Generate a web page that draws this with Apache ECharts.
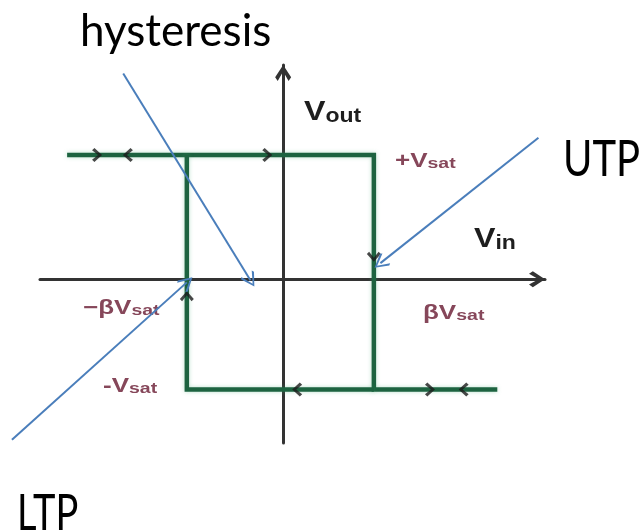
<!DOCTYPE html>
<html><head><meta charset="utf-8">
<script src="https://cdn.jsdelivr.net/npm/echarts@6/dist/echarts.min.js"></script>
<style>html,body{margin:0;padding:0;background:#fff}#c{width:639px;height:531px}</style>
</head><body><div id="c"></div>
<script>
// ---- data (arbitrary units) ----
const xLimits = [-2.6, 2.8];
const yLimits = [-1.53, 2.0];
// hysteresis loop: upper branch path and lower/left branch path
const loopOuter = [[-2.31, 1.16], [0.97, 1.16], [0.97, -1.03], [2.29, -1.03]];
const loopInner = [[-1.03, 1.16], [-1.03, -1.03], [0.97, -1.03]];
// direction chevrons on the loop
const chevronsRight = [[-1.99, 1.16], [-0.17, 1.16], [1.57, -1.03]];
const chevronsLeft = [[-1.66, 1.16], [0.15, -1.03], [1.93, -1.03]];
const chevronsDown = [[0.97, 0.21]];
const chevronsUp = [[-1.03, -0.16]];
// blue annotation pointers [from, to]
const pointerHysteresis = [[-1.71, 1.92], [-0.35, -0.01]];
const pointerUTP = [[2.73, 1.32], [1.04, 0.15]];
const pointerLTP = [[-2.90, -1.50], [-1.03, -0.03]];
// texts
const annotationTexts = ['hysteresis', 'UTP', 'LTP'];
const axisNames = ['V', 'out', 'in'];
const levelLabels = ['+V', '-V', '\u2212\u03b2V', '\u03b2V', 'sat'];

// ---- styling ----
const chevThick = 'path://M50,0 L100,76 L84,100 L50,40 L16,100 L0,76 Z';
const chevThin = 'path://M50,0 L100,86 L91,100 L50,22 L9,100 L0,86 Z';
const green = '#1d6340';
const blue = '#4a7ebb';
const lblColor = '#86475a';
const axisColor = '#333';

function chevronSeries(data, rot) {
  return {
    type: 'scatter', data: data, symbol: chevThick, symbolSize: [14, 10],
    symbolRotate: rot, itemStyle: { color: '#1a1a1a' }, z: 5, silent: true
  };
}
function lbl(x, y, text, big, small, sx, color) {
  return {
    type: 'text', x: x, y: y, scaleX: sx, silent: true,
    style: {
      text: text, align: 'left', verticalAlign: 'top',
      rich: {
        m: { fontSize: big, lineHeight: big, fontWeight: 'bold', fontFamily: 'Liberation Sans', fill: color, color: color, verticalAlign: 'bottom' },
        s: { fontSize: small, lineHeight: small, fontWeight: 'bold', fontFamily: 'Liberation Sans', fill: color, color: color, verticalAlign: 'bottom' }
      }
    }
  };
}

const chart = echarts.init(document.getElementById('c'), null, { renderer: 'canvas' });
chart.setOption({
  animation: false,
  backgroundColor: '#fff',
  grid: { left: 40, right: 94, top: 65, bottom: 88 },
  xAxis: {
    type: 'value', min: xLimits[0], max: xLimits[1],
    axisLine: { show: true, onZero: true, symbol: ['none', chevThick], symbolSize: [22, 16], symbolOffset: [0, -8],
      lineStyle: { color: axisColor, width: 3 } },
    axisTick: { show: false }, axisLabel: { show: false }, splitLine: { show: false }
  },
  yAxis: {
    type: 'value', min: yLimits[0], max: yLimits[1],
    axisLine: { show: true, onZero: true, symbol: ['none', chevThick], symbolSize: [22, 16], symbolOffset: [0, -8],
      lineStyle: { color: axisColor, width: 3 } },
    axisTick: { show: false }, axisLabel: { show: false }, splitLine: { show: false }
  },
  series: [
    { type: 'line', data: loopOuter, showSymbol: false, z: 3, silent: true,
      lineStyle: { color: green, width: 4.5, join: 'miter', shadowColor: 'rgba(60,170,110,0.35)', shadowBlur: 4 } },
    { type: 'line', data: loopInner, showSymbol: false, z: 3, silent: true,
      lineStyle: { color: green, width: 4.5, join: 'miter', shadowColor: 'rgba(60,170,110,0.35)', shadowBlur: 4 } },
    chevronSeries(chevronsRight, -90),
    chevronSeries(chevronsLeft, 90),
    chevronSeries(chevronsDown, 180),
    chevronSeries(chevronsUp, 0),
    { type: 'lines', coordinateSystem: 'cartesian2d', clip: false, silent: true, z: 6,
      symbol: ['none', chevThin], symbolSize: [19, 15],
      lineStyle: { color: blue, width: 2, opacity: 1, curveness: 0 },
      data: [{ coords: pointerHysteresis }, { coords: pointerUTP }, { coords: pointerLTP }] }
  ],
  graphic: [
    { type: 'text', x: 80, y: 10, silent: true,
      style: { text: annotationTexts[0], fontSize: 44, fontFamily: 'Lato', fill: '#000', align: 'left', verticalAlign: 'top' } },
    { type: 'text', x: 563, y: 135, scaleY: 1.25, silent: true,
      style: { text: annotationTexts[1], fontSize: 40, fontFamily: 'Lato', fill: '#000', align: 'left', verticalAlign: 'top' } },
    { type: 'text', x: 17, y: 489, scaleY: 1.3, silent: true,
      style: { text: annotationTexts[2], fontSize: 38, fontFamily: 'Lato', fill: '#000', align: 'left', verticalAlign: 'top' } },
    lbl(304, 98, '{m|' + axisNames[0] + '}{s|' + axisNames[1] + '}', 28, 20, 1.15, '#1e1e1e'),
    lbl(474, 225, '{m|' + axisNames[0] + '}{s|' + axisNames[2] + '}', 28, 20, 1.15, '#1e1e1e'),
    lbl(395, 151, '{m|' + levelLabels[0] + '}{s|' + levelLabels[4] + '}', 20, 15, 1.3, lblColor),
    lbl(103, 376, '{m|' + levelLabels[1] + '}{s|' + levelLabels[4] + '}', 20, 15, 1.3, lblColor),
    lbl(83, 298, '{m|' + levelLabels[2] + '}{s|' + levelLabels[4] + '}', 20, 15, 1.3, lblColor),
    lbl(423, 303, '{m|' + levelLabels[3] + '}{s|' + levelLabels[4] + '}', 20, 15, 1.3, lblColor)
  ]
});
</script>
</body></html>
